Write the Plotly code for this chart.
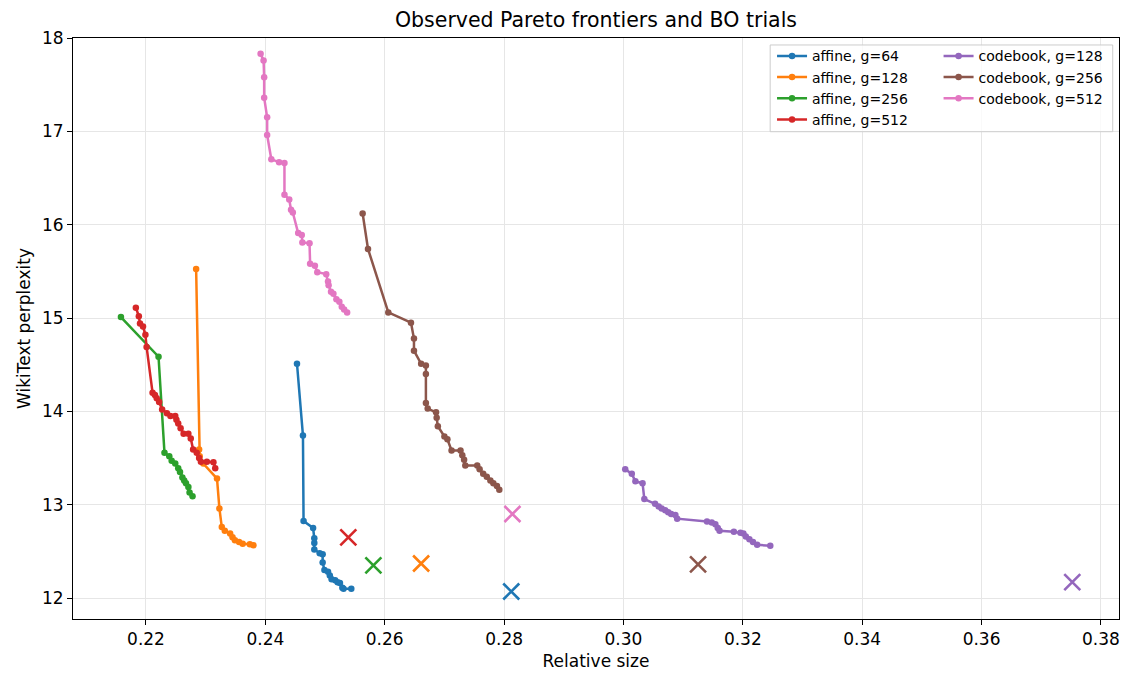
import plotly.graph_objects as go

# ---- data ----
a64_x = [0.2453, 0.2463, 0.2464, 0.2480, 0.2482, 0.2482, 0.2482, 0.2491, 0.2496, 0.2496,
         0.2499, 0.2505, 0.2508, 0.2511, 0.2517, 0.2521, 0.2525, 0.2529, 0.2531, 0.2544]
a64_y = [14.51, 13.74, 12.825, 12.75, 12.64, 12.59, 12.52, 12.48, 12.47, 12.38,
         12.30, 12.28, 12.24, 12.20, 12.19, 12.17, 12.16, 12.11, 12.10, 12.10]

a128_x = [0.2284, 0.2289, 0.2290, 0.2296, 0.2319, 0.2323, 0.2327, 0.2332, 0.2341, 0.2345,
          0.2349, 0.2356, 0.2362, 0.2374, 0.2380]
a128_y = [15.525, 13.59, 13.52, 13.44, 13.28, 12.96, 12.76, 12.72, 12.69, 12.65,
          12.62, 12.60, 12.58, 12.575, 12.565]

a256_x = [0.2158, 0.2221, 0.2231, 0.2239, 0.2243, 0.2249, 0.2254, 0.2257, 0.2261, 0.2264,
          0.2267, 0.2271, 0.2273, 0.2278]
a256_y = [15.01, 14.585, 13.555, 13.52, 13.47, 13.44, 13.39, 13.35, 13.29, 13.26,
          13.23, 13.19, 13.13, 13.09]

a512_x = [0.2183, 0.2188, 0.2190, 0.2195, 0.2199, 0.2201, 0.2211, 0.2215, 0.2218, 0.2222,
          0.2227, 0.2235, 0.2241, 0.2249, 0.2251, 0.2254, 0.2258, 0.2263, 0.2271, 0.2275,
          0.2279, 0.2285, 0.2289, 0.2292, 0.2302, 0.2313, 0.2316]
a512_y = [15.11, 15.02, 14.94, 14.91, 14.82, 14.69, 14.20, 14.175, 14.14, 14.10,
          14.02, 13.98, 13.95, 13.95, 13.91, 13.87, 13.82, 13.76, 13.76, 13.71,
          13.59, 13.555, 13.50, 13.46, 13.46, 13.455, 13.39]

cb128_x = [0.3003, 0.3014, 0.3020, 0.3032, 0.3035, 0.3053, 0.3059, 0.3064, 0.3070, 0.3075,
           0.3080, 0.3087, 0.3090, 0.3140, 0.3148, 0.3154, 0.3158, 0.3161, 0.3185, 0.3196,
           0.3201, 0.3205, 0.3211, 0.3217, 0.3224, 0.3246]
cb128_y = [13.38, 13.33, 13.25, 13.23, 13.06, 13.01, 12.98, 12.96, 12.94, 12.92,
           12.90, 12.89, 12.85, 12.82, 12.81, 12.79, 12.75, 12.72, 12.71, 12.70,
           12.69, 12.66, 12.63, 12.60, 12.57, 12.56]

cb256_x = [0.2563, 0.2572, 0.2606, 0.2644, 0.2649, 0.2649, 0.2661, 0.2669, 0.2669, 0.2669,
           0.2672, 0.2686, 0.2687, 0.2689, 0.2700, 0.2705, 0.2712, 0.2727, 0.2730, 0.2733,
           0.2735, 0.2755, 0.2759, 0.2765, 0.2771, 0.2777, 0.2782, 0.2788, 0.2792]
cb256_y = [16.12, 15.74, 15.06, 14.95, 14.78, 14.65, 14.51, 14.49, 14.40, 14.09,
           14.03, 13.99, 13.93, 13.84, 13.73, 13.70, 13.58, 13.58, 13.53, 13.48,
           13.42, 13.42, 13.38, 13.33, 13.30, 13.26, 13.23, 13.20, 13.16]

cb512_x = [0.2392, 0.2397, 0.2398, 0.2398, 0.2403, 0.2403, 0.2410, 0.2423, 0.2432, 0.2432,
           0.2440, 0.2443, 0.2446, 0.2455, 0.2461, 0.2462, 0.2474, 0.2475, 0.2483, 0.2487,
           0.2502, 0.2505, 0.2506, 0.2510, 0.2514, 0.2519, 0.2524, 0.2528, 0.2532, 0.2537]
cb512_y = [17.83, 17.76, 17.58, 17.36, 17.15, 16.96, 16.70, 16.67, 16.66, 16.32,
           16.27, 16.16, 16.13, 15.91, 15.89, 15.81, 15.80, 15.58, 15.56, 15.49,
           15.47, 15.39, 15.35, 15.28, 15.26, 15.20, 15.175, 15.12, 15.09, 15.06]

series_names = ["affine, g=64", "affine, g=128", "affine, g=256", "affine, g=512",
                "codebook, g=128", "codebook, g=256", "codebook, g=512"]
series_x = [a64_x, a128_x, a256_x, a512_x, cb128_x, cb256_x, cb512_x]
series_y = [a64_y, a128_y, a256_y, a512_y, cb128_y, cb256_y, cb512_y]
colors = ["#1f77b4", "#ff7f0e", "#2ca02c", "#d62728", "#9467bd", "#8c564b", "#e377c2"]

# BO trial points (same order as series)
bo_x = [0.2812, 0.2661, 0.2581, 0.2539, 0.3752, 0.3125, 0.2814]
bo_y = [12.07, 12.37, 12.35, 12.65, 12.17, 12.36, 12.90]

x_ticks = [0.22, 0.24, 0.26, 0.28, 0.30, 0.32, 0.34, 0.36, 0.38]
x_tick_labels = ["0.22", "0.24", "0.26", "0.28", "0.30", "0.32", "0.34", "0.36", "0.38"]
y_ticks = [12, 13, 14, 15, 16, 17, 18]

FONT = "DejaVu Sans"

# the page body adds an 8px offset, so the figure is 8px smaller on each axis
W, H = 1123, 665

fig = go.Figure()
for i, (name, xs, ys, c) in enumerate(zip(series_names, series_x, series_y, colors)):
    fig.add_trace(go.Scatter(
        x=xs, y=ys, mode="lines+markers", name=name,
        line=dict(color=c, width=2.5),
        marker=dict(color=c, size=6.5),
        legend="legend" if i < 4 else "legend2",
    ))

for bx, by, c in zip(bo_x, bo_y, colors):
    fig.add_trace(go.Scatter(
        x=[bx], y=[by], mode="markers", showlegend=False,
        marker=dict(symbol="x-thin", size=16, color=c, line=dict(color=c, width=2.6)),
    ))

legend_common = dict(
    bgcolor="rgba(0,0,0,0)", borderwidth=0,
    font=dict(family=FONT, size=14, color="#000"),
    xanchor="left", yanchor="top", y=0.996,
    tracegroupgap=0, itemwidth=30,
)

fig.update_layout(
    width=W, height=H,
    margin=dict(l=65, r=12, t=30, b=54),
    paper_bgcolor="white", plot_bgcolor="white",
    font=dict(family=FONT, size=17, color="#000"),
    title=dict(text="Observed Pareto frontiers and BO trials",
               font=dict(family=FONT, size=20.5, color="#000"),
               x=0.5, xref="paper", xanchor="center",
               y=1 - 12 / H, yref="container", yanchor="middle"),
    legend=dict(x=0.6683, **legend_common),
    legend2=dict(x=0.8275, **legend_common),
    shapes=[dict(type="rect", xref="paper", yref="paper",
                 x0=0.6665, x1=0.994, y0=0.8387, y1=0.988,
                 line=dict(color="#cccccc", width=1),
                 fillcolor="rgba(255,255,255,0.8)", layer="above")],
)

fig.update_xaxes(
    range=[0.20777, 0.38303], automargin=False,
    tickvals=x_ticks, ticktext=x_tick_labels,
    showgrid=True, gridcolor="#e6e6e6", gridwidth=1, zeroline=False,
    showline=True, linecolor="#000", linewidth=1.1, mirror=True,
    ticks="outside", ticklen=5, tickcolor="#000", tickwidth=1,
    tickfont=dict(family=FONT, size=17),
    title=dict(text="Relative size", font=dict(family=FONT, size=17), standoff=6),
)
fig.update_yaxes(
    range=[11.775, 18.0], automargin=False,
    tickvals=y_ticks,
    showgrid=True, gridcolor="#e6e6e6", gridwidth=1, zeroline=False,
    showline=True, linecolor="#000", linewidth=1.1, mirror=True,
    ticks="outside", ticklen=5, tickcolor="#000", tickwidth=1,
    tickfont=dict(family=FONT, size=17),
    title=dict(text="WikiText perplexity", font=dict(family=FONT, size=17), standoff=6),
)

fig.write_html("out.html")
